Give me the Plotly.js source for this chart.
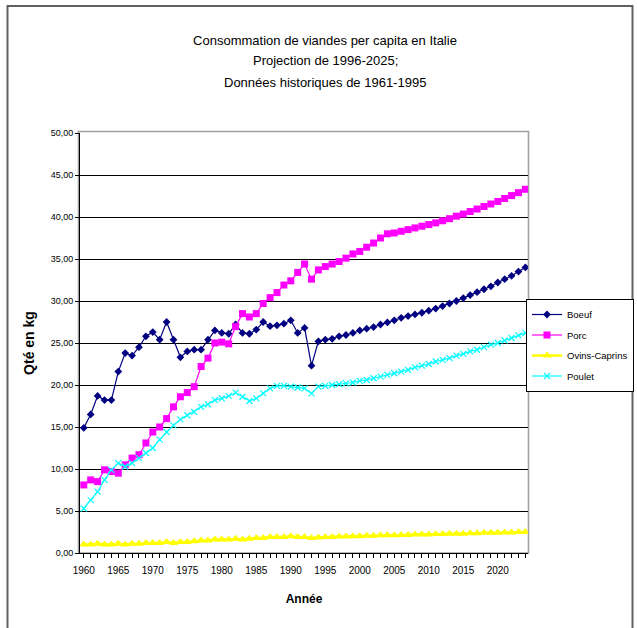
<!DOCTYPE html>
<html>
<head>
<meta charset="utf-8">
<script src="https://cdn.plot.ly/plotly-3.0.1.min.js"></script>
<style>
  html, body { margin: 0; padding: 0; background: #ffffff; }
  #chart { width: 637px; height: 628px; }
</style>
</head>
<body>
<div id="chart"></div>
<script>
// Years on the category axis (historical 1960-1993, projection afterwards)
const years = [
  1960, 1961, 1962, 1963, 1964, 1965, 1966, 1967, 1968, 1969,
  1970, 1971, 1972, 1973, 1974, 1975, 1976, 1977, 1978, 1979,
  1980, 1981, 1982, 1983, 1984, 1985, 1986, 1987, 1988, 1989,
  1990, 1991, 1992, 1993, 1994, 1995, 1996, 1997, 1998, 1999,
  2000, 2001, 2002, 2003, 2004, 2005, 2006, 2007, 2008, 2009,
  2010, 2011, 2012, 2013, 2014, 2015, 2016, 2017, 2018, 2019,
  2020, 2021, 2022, 2023, 2024
];

// Per-capita consumption, kg per person per year
const boeuf = [
  14.9, 16.5, 18.7, 18.2, 18.2, 21.6, 23.8, 23.5, 24.5, 25.8,
  26.3, 25.4, 27.5, 25.4, 23.3, 24.0, 24.2, 24.2, 25.4, 26.5,
  26.2, 26.1, 27.2, 26.2, 26.1, 26.6, 27.5, 27.0, 27.1, 27.3,
  27.7, 26.2, 26.8, 22.3, 25.2, 25.4, 25.5, 25.8, 25.95, 26.2,
  26.5, 26.7, 26.9, 27.2, 27.45, 27.7, 28.0, 28.2, 28.4, 28.6,
  28.85, 29.1, 29.4, 29.7, 30.0, 30.35, 30.7, 31.05, 31.4, 31.75,
  32.2, 32.6, 33.0, 33.5, 34.0
];

const porc = [
  8.1, 8.7, 8.5, 9.9, 9.7, 9.5, 10.5, 11.3, 11.7, 13.1,
  14.4, 15.0, 16.0, 17.4, 18.6, 19.1, 19.8, 22.2, 23.2, 25.0,
  25.1, 24.9, 26.95, 28.5, 28.1, 28.5, 29.7, 30.4, 31.0, 31.9,
  32.4, 33.4, 34.4, 32.6, 33.7, 34.1, 34.4, 34.7, 35.1, 35.6,
  35.9, 36.4, 36.9, 37.5, 38.0, 38.1, 38.3, 38.5, 38.7, 38.9,
  39.1, 39.3, 39.55, 39.8, 40.1, 40.35, 40.65, 40.95, 41.25, 41.55,
  41.85, 42.2, 42.55, 42.9, 43.3
];

const ovinsCaprins = [
  1.0, 1.0, 1.1, 1.0, 1.0, 1.1, 1.0, 1.1, 1.1, 1.2,
  1.2, 1.2, 1.3, 1.2, 1.3, 1.3, 1.4, 1.5, 1.5, 1.6,
  1.6, 1.6, 1.7, 1.6, 1.7, 1.8, 1.8, 1.9, 1.9, 1.9,
  2.0, 1.9, 1.9, 1.8, 1.85, 1.9, 1.9, 1.95, 1.95, 2.0,
  2.0, 2.05, 2.05, 2.1, 2.1, 2.1, 2.15, 2.15, 2.2, 2.2,
  2.2, 2.25, 2.25, 2.3, 2.3, 2.3, 2.35, 2.35, 2.4, 2.4,
  2.4, 2.45, 2.45, 2.5, 2.5
];

const poulet = [
  5.3, 6.3, 7.3, 8.7, 9.9, 10.7, 10.3, 10.7, 11.3, 11.9,
  12.5, 13.5, 14.4, 15.2, 15.9, 16.4, 16.8, 17.4, 17.7, 18.2,
  18.4, 18.7, 19.1, 18.6, 18.1, 18.4, 19.0, 19.6, 19.9, 19.9,
  19.8, 19.7, 19.6, 19.0, 19.8, 19.9, 20.0, 20.1, 20.2, 20.3,
  20.5, 20.6, 20.8, 21.0, 21.2, 21.4, 21.6, 21.8, 22.1, 22.3,
  22.5, 22.8, 23.0, 23.2, 23.5, 23.7, 24.0, 24.2, 24.5, 24.8,
  25.0, 25.3, 25.6, 25.9, 26.2
];

const seriesNames = ['Boeuf', 'Porc', 'Ovins-Caprins', 'Poulet'];
const titleLines = [
  'Consommation de viandes per capita en Italie',
  'Projection de 1996-2025;',
  'Données historiques de 1961-1995'
];

const SANS = '"Liberation Sans", Arial, sans-serif';

const W = 637, H = 628;
const M = { l: 80, r: 109, t: 133, b: 75, autoexpand: false };
const plotW = W - M.l - M.r;
const plotH = H - M.t - M.b;

function series(name, y, color, symbol, size, lineWidth) {
  const marker = { symbol: symbol, size: size, color: color };
  if (symbol.indexOf('thin') >= 0) {
    marker.line = { color: color, width: 1.2 };
  }
  return {
    type: 'scatter',
    mode: 'lines+markers',
    name: name,
    legendgroup: name,
    x: years,
    y: y,
    line: { color: color, width: lineWidth },
    marker: marker,
    hoverinfo: 'x+y+name'
  };
}

const traces = [
  series(seriesNames[0], boeuf, '#000080', 'diamond', 6, 1.2),
  series(seriesNames[1], porc, '#FF00FF', 'square', 7, 1.2),
  series(seriesNames[2], ovinsCaprins, '#FFFF00', 'triangle-up', 8, 2.5),
  series(seriesNames[3], poulet, '#00FFFF', 'x-thin', 6, 1.2)
];

// pixel -> paper / container helpers for decoration placement
const px = v => (v - M.l) / plotW;
const py = v => 1 - (v - M.t) / plotH;
const cx = v => v / W;
const cy = v => 1 - v / H;

const titleFont = { family: SANS, size: 13, color: '#000000' };

const layout = {
  width: W,
  height: H,
  margin: M,
  paper_bgcolor: '#ffffff',
  plot_bgcolor: '#ffffff',
  separators: ', ',
  showlegend: true,
  font: { family: SANS, color: '#000000', size: 10 },
  title: {
    text: titleLines[0],
    font: titleFont,
    xref: 'container',
    x: cx(325),
    xanchor: 'center',
    yref: 'container',
    y: cy(40),
    yanchor: 'middle'
  },
  annotations: [
    {
      text: titleLines[1], showarrow: false, font: titleFont,
      xref: 'paper', yref: 'paper', x: px(325), y: py(61),
      xanchor: 'center', yanchor: 'middle'
    },
    {
      text: titleLines[2], showarrow: false, font: titleFont,
      xref: 'paper', yref: 'paper', x: px(325), y: py(82),
      xanchor: 'center', yanchor: 'middle'
    }
  ],
  xaxis: {
    range: [1959.45, 2024.38],
    tickmode: 'linear',
    tick0: 1960,
    dtick: 5,
    ticks: 'outside',
    ticklen: 4,
    tickcolor: '#000000',
    tickwidth: 1,
    ticklabelstandoff: 4,
    minor: { dtick: 1, ticks: 'outside', ticklen: 4, tickcolor: '#000000', showgrid: false },
    showgrid: false,
    zeroline: false,
    showline: true,
    linecolor: '#000000',
    linewidth: 1,
    tickfont: { family: SANS, size: 10, color: '#000000' },
    title: {
      text: 'Année',
      font: { family: SANS, size: 12, color: '#000000', weight: 'bold' },
      standoff: 19
    },
    automargin: false,
    fixedrange: true
  },
  yaxis: {
    range: [0, 50],
    tickmode: 'linear',
    tick0: 0,
    dtick: 5,
    tickformat: '.2f',
    ticks: 'outside',
    ticklen: 4,
    tickcolor: '#000000',
    showgrid: true,
    gridcolor: '#000000',
    gridwidth: 1,
    zeroline: false,
    showline: true,
    linecolor: '#000000',
    linewidth: 1,
    tickfont: { family: SANS, size: 9, color: '#000000' },
    title: {
      text: 'Qté en kg',
      font: { family: SANS, size: 14, color: '#000000', weight: 'bold' },
      standoff: 12
    },
    automargin: false,
    fixedrange: true
  },
  legend: {
    xref: 'container',
    yref: 'container',
    x: cx(634),
    xanchor: 'right',
    y: cy(299),
    yanchor: 'top',
    bgcolor: '#ffffff',
    bordercolor: '#000000',
    borderwidth: 1,
    tracegroupgap: 1.5,
    traceorder: 'grouped',
    font: { family: SANS, size: 9.5, color: '#000000' }
  },
  shapes: [
    // grey plot-area frame
    {
      type: 'rect', xref: 'paper', yref: 'paper',
      x0: px(78.5), x1: px(528.5), y0: py(553), y1: py(131.5),
      line: { color: '#a0a0a0', width: 1.6 }, fillcolor: 'rgba(0,0,0,0)', layer: 'below'
    },
    // outer chart frame
    {
      type: 'rect', xref: 'paper', yref: 'paper',
      x0: px(7.5), x1: px(632.5), y0: py(640), y1: py(6),
      line: { color: '#606060', width: 2 }, fillcolor: 'rgba(0,0,0,0)', layer: 'above'
    }
  ]
};

Plotly.newPlot('chart', traces, layout, { staticPlot: true, displayModeBar: false });
</script>
</body>
</html>
